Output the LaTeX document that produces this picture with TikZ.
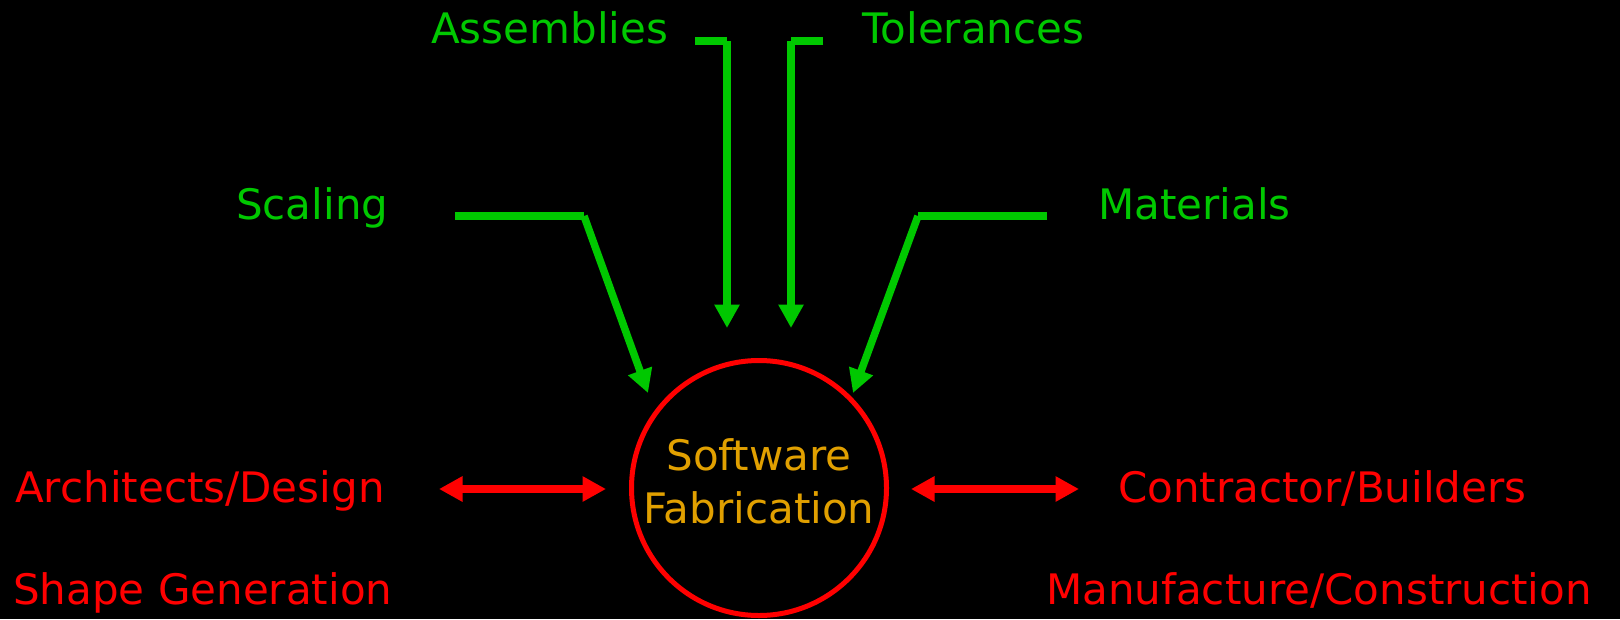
\documentclass[tikz,border=0pt]{standalone}
\usepackage{fontspec}
\setmainfont{DejaVu Sans}
\usetikzlibrary{arrows.meta}
\definecolor{flowgreen}{RGB}{0,200,0}
\definecolor{hotred}{RGB}{255,0,0}
\definecolor{gold}{RGB}{225,160,0}
\begin{document}
\begin{tikzpicture}[x=1pt,y=-1pt,
  lbl/.style={font=\fontsize{42}{53}\selectfont, anchor=base west, inner sep=0pt},
  infeed/.style={lbl, text=flowgreen},
  party/.style={lbl, text=hotred},
  core/.style={font=\fontsize{42}{53}\selectfont, anchor=base, inner sep=0pt, text=gold},
  feed/.style={draw=flowgreen, line width=7.5pt},
  feedarrow/.style={feed, -{Triangle[width=24pt,length=23.5pt]}},
  link/.style={draw=hotred, line width=7.5pt,
    {Triangle[width=24pt,length=23.5pt]}-{Triangle[width=24pt,length=23.5pt]}},
]
\useasboundingbox (0,0) rectangle (1620,619);
\fill[black] (0,0) rectangle (1620,619);

% labels
\node[infeed] (asm) at (431,43) {Assemblies};
\node[infeed] (tol) at (862,43) {Tolerances};
\node[infeed] (scl) at (236,219) {Scaling};
\node[infeed] (mat) at (1098,219) {Materials};
\node[party] (arch) at (15,502) {Architects/Design};
\node[party] (shape) at (13,604) {Shape Generation};
\node[party] (contr) at (1118,502) {Contractor/Builders};
\node[party] (manu) at (1046,604) {Manufacture/Construction};

% central process
\node[circle, draw=hotred, line width=5pt, minimum size=255pt, inner sep=0pt] (fab) at (759,488) {};
\node[core] (fabtop) at (759,470) {Software};
\node[core] (fabbot) at (759,523) {Fabrication};

% bend and tip points of the inputs
\coordinate (asmA) at (695,41);  \coordinate (asmB) at (727,41);  \coordinate (asmT) at (727,328);
\coordinate (tolA) at (823,41);  \coordinate (tolB) at (791,41);  \coordinate (tolT) at (791,328);
\coordinate (sclA) at (455,216); \coordinate (sclB) at (584,216); \coordinate (sclT) at (648,393);
\coordinate (matA) at (1047,216);\coordinate (matB) at (918,216); \coordinate (matT) at (853,393);

\draw[feed] (asmA) -- (asmB);  \draw[feedarrow] (asmB) -- (asmT);
\draw[feed] (tolA) -- (tolB);  \draw[feedarrow] (tolB) -- (tolT);
\draw[feed] (sclA) -- (sclB);  \draw[feedarrow] (sclB) -- (sclT);
\draw[feed] (matA) -- (matB);  \draw[feedarrow] (matB) -- (matT);

% two-way exchanges
\coordinate (archL) at (439,489); \coordinate (archR) at (606,489);
\coordinate (contrL) at (911,489); \coordinate (contrR) at (1079,489);
\draw[link] (archL) -- (archR);
\draw[link] (contrL) -- (contrR);
\end{tikzpicture}
\end{document}
